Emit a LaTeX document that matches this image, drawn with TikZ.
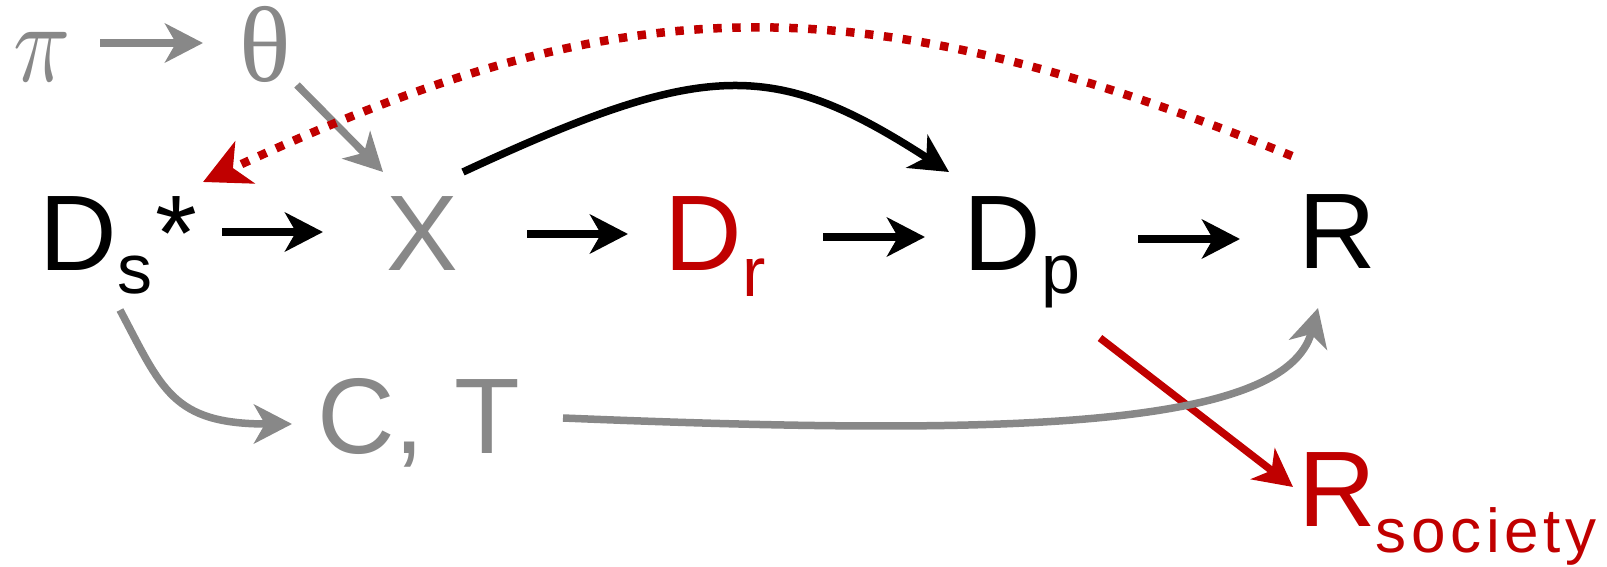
\documentclass[tikz,border=0pt]{standalone}
\usepackage{fontspec}
\setmainfont{Liberation Sans}
\newfontfamily\serifgr{Liberation Serif}
\newfontfamily\spaced[LetterSpace=7.5]{Liberation Sans}
\usetikzlibrary{arrows.meta}
\definecolor{gr}{HTML}{888888}
\definecolor{rd}{HTML}{C00000}
\newcommand\bigsz{\fontsize{107.5}{120}\selectfont}
\newcommand\subsz{\fontsize{70}{70}\selectfont}
\newcommand\lowsub[2]{\raisebox{-#1pt}{\subsz #2}}
\begin{document}
\begin{tikzpicture}[x=1pt,y=-1pt,
  lbl/.style={anchor=base west, inner sep=0pt, outer sep=0pt, font=\bigsz},
  arr/.style={line width=7.5pt, -{Stealth[length=38pt,width=39pt,inset=11pt]}},
  dotarr/.style={line width=8.5pt, dash pattern=on 8.5pt off 10.5pt, -{Stealth[length=46pt,width=46pt,inset=13pt]}}]
\useasboundingbox (0,0) rectangle (1607,567);
% nodes
\node[lbl, text=gr, font=\fontsize{10}{12}\selectfont] (pi) at (13,82) {\scalebox{9.46}[11.4]{$\pi$}};
\node[lbl, text=gr, font=\bigsz\serifgr] (theta) at (239,82) {θ};
\node[lbl] (Ds) at (39.5,270) {D\lowsub{23}{s}\kern3pt*};
\node[lbl, text=gr] (X) at (386,270) {X};
\node[lbl, text=rd] (Dr) at (664.5,270) {D\lowsub{26}{r}};
\node[lbl] (Dp) at (963.5,270) {D\lowsub{23}{p}};
\node[lbl] (R) at (1298,268) {R};
\node[lbl, text=gr] (CT) at (317,453) {C, T};
\node[lbl, text=rd] (Rs) at (1298,526) {R\raisebox{-26pt}{\fontsize{62}{62}\spaced society}};
% straight arrows
\draw[arr, gr] ([shift={(87,-39)}]pi.base west) -- ([shift={(-36,-39)}]theta.base west);
\draw[arr, gr] ([shift={(58,3)}]theta.base west) -- ([shift={(-3,-98)}]X.base west);
\draw[arr] ([shift={(182.5,-38)}]Ds.base west) -- ([shift={(-63,-38)}]X.base west);
\draw[arr] ([shift={(141,-36)}]X.base west) -- ([shift={(-36.5,-36)}]Dr.base west);
\draw[arr] ([shift={(158.5,-33)}]Dr.base west) -- ([shift={(-38.5,-33)}]Dp.base west);
\draw[arr] ([shift={(174.5,-31)}]Dp.base west) -- ([shift={(-58,-29)}]R.base west);
\draw[arr, rd] ([shift={(136.5,68)}]Dp.base west) -- ([shift={(-5,-39)}]Rs.base west);
% curved arrows
\draw[arr] ([shift={(77,-98)}]X.base west) .. controls +(243,-113) and +(-175,-113) .. ([shift={(-14.5,-98)}]Dp.base west);
\draw[dotarr, rd] ([shift={(-6,-112)}]R.base west) .. controls +(-445,-180) and +(414,-193) .. ([shift={(163.5,-88)}]Ds.base west);
\draw[arr, gr] ([shift={(80.5,40)}]Ds.base west) .. controls +(42,79) and +(-120,0) .. ([shift={(-25,-29)}]CT.base west);
\draw[arr, gr] ([shift={(246,-35)}]CT.base west) .. controls +(437,18) and +(-33,122) .. ([shift={(20,40)}]R.base west);
\end{tikzpicture}
\end{document}
